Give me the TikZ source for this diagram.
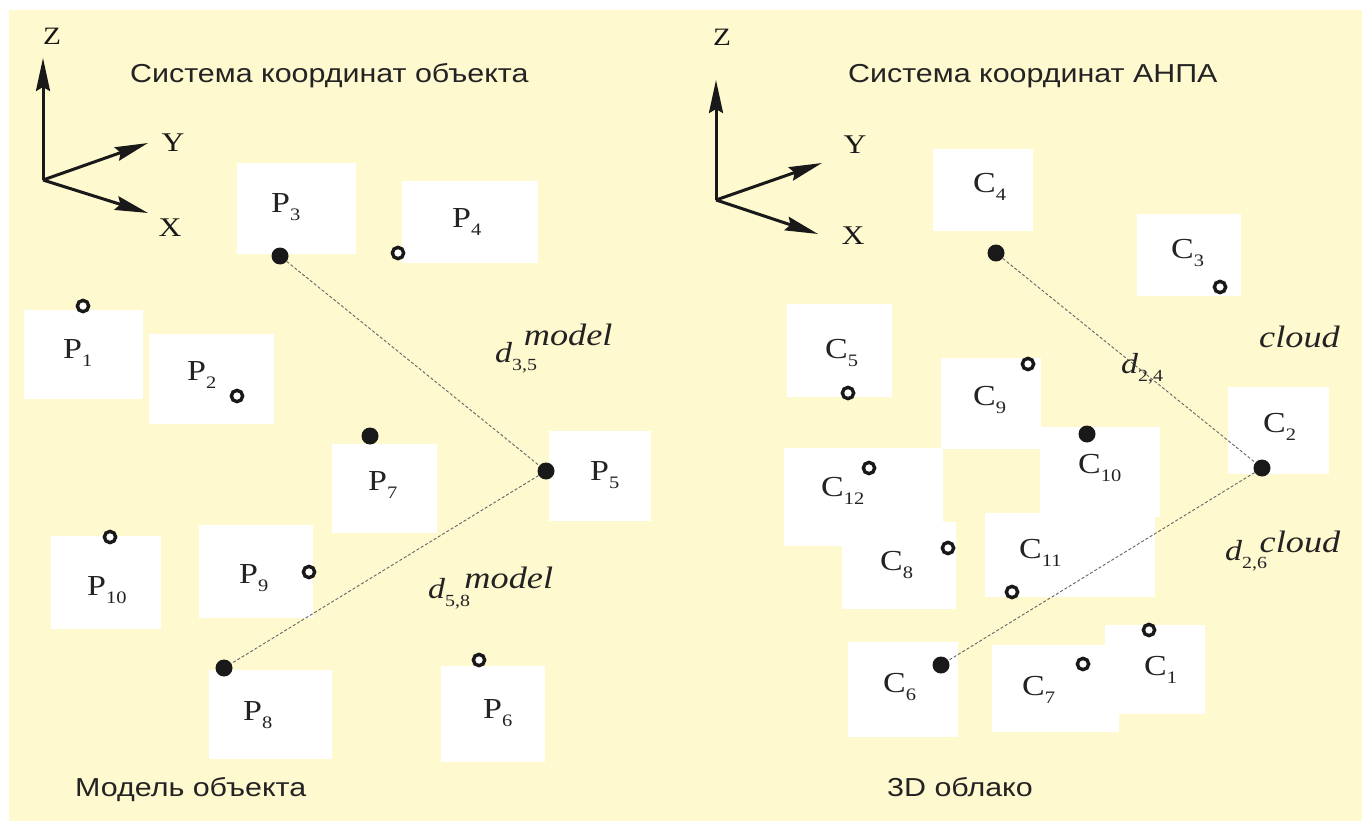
\documentclass[tikz,border=0pt]{standalone}
\usepackage{fontspec}
\usepackage{graphicx}
\setmainfont{Liberation Serif}
\newfontfamily\titlefont{Liberation Sans}
\usetikzlibrary{arrows.meta,fit}

\definecolor{paper}{RGB}{255,249,208}
\definecolor{ink}{RGB}{25,25,25}
\definecolor{textgray}{RGB}{35,35,35}
\definecolor{dashgray}{RGB}{100,100,100}

% text is set a little wider than the font's natural width
\newcommand\widen[1]{\scalebox{1.17}[1]{#1}}
% point label: letter with a lowered index
\newcommand\ptname[2]{\widen{#1\raisebox{-8pt}{\fontsize{17.5}{17.5}\selectfont #2}}}
% distance label: italic d, index, raised superscript word
\newcommand\distlabel[4]{\widen{\itshape d\rlap{\raisebox{-8pt}{\upshape\fontsize{17}{17}\selectfont #1}}\kern #3\raisebox{#4}{\fontsize{31}{31}\selectfont #2}}}

\tikzset{
  whitebox/.style={fill=white, draw=none, inner sep=0pt},
  ptlabel/.style={anchor=base west, inner sep=0pt, text=textgray, font=\fontsize{29}{29}\selectfont},
  heading/.style={anchor=base west, inner sep=0pt, text=textgray, font=\titlefont\fontsize{26}{26}\selectfont},
  axislabel/.style={inner sep=0pt, text=ink, font=\fontsize{27}{27}\selectfont},
  fulldot/.style={circle, fill=ink, minimum size=17pt, inner sep=0pt},
  ringdot/.style={circle, draw=ink, fill=white, line width=3.4pt, minimum size=11.3pt, inner sep=0pt},
  link/.style={draw=dashgray, line width=0.9pt, dash pattern=on 3pt off 2pt},
  axis/.style={draw=ink, line width=3pt, -{Stealth[length=33pt,width=14pt,inset=4pt]}},
}

\begin{document}
\begin{tikzpicture}[x=1pt,y=-1pt]
\useasboundingbox (0,0) rectangle (1362,821);
\fill[white] (0,0) rectangle (1362,821);
\fill[paper] (9,10) rectangle (1362,821);

% ---------- white label boxes, object model ----------
\node[whitebox, fit={(237,163) (356,254)}] (bP3) {};
\node[whitebox, fit={(402,181) (538,263)}] (bP4) {};
\node[whitebox, fit={(24,310) (143,399)}] (bP1) {};
\node[whitebox, fit={(149,334) (274,424)}] (bP2) {};
\node[whitebox, fit={(332,444) (437,533)}] (bP7) {};
\node[whitebox, fit={(549,431) (651,521)}] (bP5) {};
\node[whitebox, fit={(51,536) (161,629)}] (bP10) {};
\node[whitebox, fit={(199,525) (313,618)}] (bP9) {};
\node[whitebox, fit={(209,670) (332,759)}] (bP8) {};
\node[whitebox, fit={(441,666) (545,762)}] (bP6) {};

% ---------- white label boxes, point cloud ----------
\node[whitebox, fit={(933,149) (1033,231)}] (bC4) {};
\node[whitebox, fit={(1137,214) (1241,296)}] (bC3) {};
\node[whitebox, fit={(787,304) (892,397)}] (bC5) {};
\node[whitebox, fit={(941,358) (1041,449)}] (bC9) {};
\node[whitebox, fit={(1228,387) (1329,474)}] (bC2) {};
\node[whitebox, fit={(1040,427) (1160,517)}] (bC10) {};
\node[whitebox, fit={(784,448) (943,546)}] (bC12) {};
\node[whitebox, fit={(842,522) (956,609)}] (bC8) {};
\node[whitebox, fit={(985,513) (1155,597)}] (bC11) {};
\node[whitebox, fit={(848,642) (958,737)}] (bC6) {};
\node[whitebox, fit={(992,645) (1119,732)}] (bC7) {};
\node[whitebox, fit={(1105,625) (1205,714)}] (bC1) {};

% ---------- point names ----------
\node[ptlabel] (tP1) at (63,358) {\ptname{P}{1}};
\node[ptlabel] (tP2) at (187,380) {\ptname{P}{2}};
\node[ptlabel] (tP3) at (271,212) {\ptname{P}{3}};
\node[ptlabel] (tP4) at (452,227) {\ptname{P}{4}};
\node[ptlabel] (tP5) at (590,480) {\ptname{P}{5}};
\node[ptlabel] (tP6) at (483,718) {\ptname{P}{6}};
\node[ptlabel] (tP7) at (368,490) {\ptname{P}{7}};
\node[ptlabel] (tP8) at (243,720) {\ptname{P}{8}};
\node[ptlabel] (tP9) at (239,583) {\ptname{P}{9}};
\node[ptlabel] (tP10) at (87,595) {\ptname{P}{10}};

\node[ptlabel] (tC1) at (1144,675) {\ptname{C}{1}};
\node[ptlabel] (tC2) at (1263,432) {\ptname{C}{2}};
\node[ptlabel] (tC3) at (1171,258) {\ptname{C}{3}};
\node[ptlabel] (tC4) at (973,193) {\ptname{C}{4}};
\node[ptlabel] (tC5) at (825,358) {\ptname{C}{5}};
\node[ptlabel] (tC6) at (883,692) {\ptname{C}{6}};
\node[ptlabel] (tC7) at (1022,695) {\ptname{C}{7}};
\node[ptlabel] (tC8) at (880,570) {\ptname{C}{8}};
\node[ptlabel] (tC9) at (973,405) {\ptname{C}{9}};
\node[ptlabel] (tC10) at (1078,473) {\ptname{C}{10}};
\node[ptlabel] (tC11) at (1019,558) {\ptname{C}{11}};
\node[ptlabel] (tC12) at (821,496) {\ptname{C}{12}};

% ---------- points ----------
\node[fulldot] (p3) at (280,256) {};
\node[fulldot] (p7) at (370,436) {};
\node[fulldot] (p5) at (546,471) {};
\node[fulldot] (p8) at (224,668) {};
\node[ringdot] (p4) at (398,253) {};
\node[ringdot] (p1) at (83,306) {};
\node[ringdot] (p2) at (237,396) {};
\node[ringdot] (p10) at (110,537) {};
\node[ringdot] (p9) at (309,572) {};
\node[ringdot] (p6) at (479,660) {};

\node[fulldot] (c4) at (996,253) {};
\node[fulldot] (c10) at (1087,434) {};
\node[fulldot] (c2) at (1262,468) {};
\node[fulldot] (c6) at (941,665) {};
\node[ringdot] (c3) at (1220,287) {};
\node[ringdot] (c5) at (848,393) {};
\node[ringdot] (c9) at (1028,364) {};
\node[ringdot] (c12) at (869,468) {};
\node[ringdot] (c8) at (948,548) {};
\node[ringdot] (c11) at (1012,592) {};
\node[ringdot] (c7) at (1083,664) {};
\node[ringdot] (c1) at (1149,630) {};

% ---------- distances ----------
\draw[link] (p3) -- (p5);
\draw[link] (p5) -- (p8);
\draw[link] (c4) -- (c2);
\draw[link] (c2) -- (c6);

\node[ptlabel] (d35) at (495,362) {\distlabel{3,5}{model}{10pt}{17pt}};
\node[ptlabel] (d58) at (428,598) {\distlabel{5,8}{model}{16.5pt}{10pt}};
\node[ptlabel] (d26) at (1225,560) {\distlabel{2,6}{cloud}{15pt}{8pt}};
\node[ptlabel] (d24) at (1121,373) {\widen{\itshape d\raisebox{-8pt}{\upshape\fontsize{17}{17}\selectfont 2,4}}};
\node[ptlabel] (wcloud) at (1259,347) {\widen{\fontsize{31}{31}\selectfont\itshape cloud}};

% ---------- coordinate frames ----------
\coordinate (oL) at (43,180);
\coordinate (zL) at (43,58);
\coordinate (yL) at (148,143);
\coordinate (xL) at (148,213);
\draw[axis] (oL) -- (zL);
\draw[axis] (oL) -- (yL);
\draw[axis] (oL) -- (xL);
\node[axislabel, font=\fontsize{25}{25}\selectfont] (lzL) at (52,36) {\widen{Z}};
\node[axislabel] (lyL) at (173,143) {\widen{Y}};
\node[axislabel] (lxL) at (170,228) {\widen{X}};

\coordinate (oR) at (716,200);
\coordinate (zR) at (716,80);
\coordinate (yR) at (822,163);
\coordinate (xR) at (818,234);
\draw[axis] (oR) -- (zR);
\draw[axis] (oR) -- (yR);
\draw[axis] (oR) -- (xR);
\node[axislabel, font=\fontsize{25}{25}\selectfont] (lzR) at (722,37) {\widen{Z}};
\node[axislabel] (lyR) at (855,145) {\widen{Y}};
\node[axislabel] (lxR) at (853,236) {\widen{X}};

% ---------- headings ----------
\node[heading] (hL) at (130,83) {\widen{Система координат объекта}};
\node[heading] (hR) at (848,83) {\widen{Система координат АНПА}};
\node[heading] (fL) at (75,796) {\widen{Модель объекта}};
\node[heading] (fR) at (887,796) {\widen{3D облако}};
\end{tikzpicture}
\end{document}
